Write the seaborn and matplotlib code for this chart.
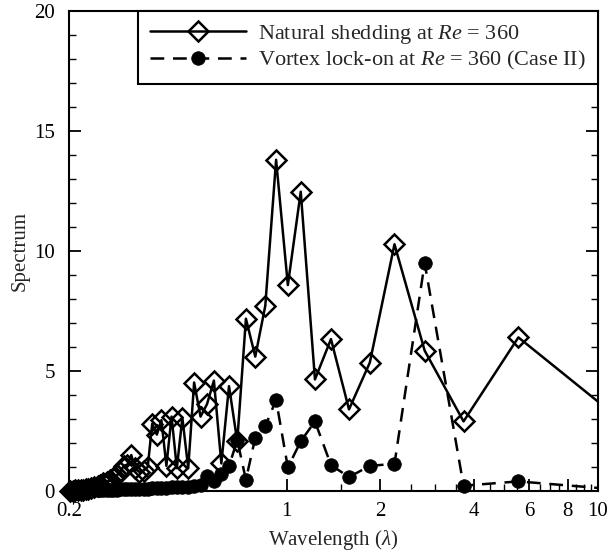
import numpy as np
import pandas as pd
import matplotlib
matplotlib.use("Agg")
import matplotlib.pyplot as plt
from matplotlib.ticker import FixedLocator, NullFormatter, FixedFormatter
from matplotlib.lines import Line2D
import seaborn as sns

# Wavelengths of the spectral components (largest first)
wavelength = [11.1, 5.55, 3.70, 2.775, 2.22, 1.85, 1.586, 1.388, 1.233, 1.11,
              1.009, 0.925, 0.854, 0.793, 0.740, 0.694, 0.653, 0.617, 0.584, 0.555,
              0.529, 0.5045, 0.483, 0.4625, 0.444, 0.427, 0.411, 0.396, 0.383, 0.370,
              0.358, 0.347, 0.336, 0.326, 0.317, 0.308, 0.300, 0.292, 0.285, 0.2775,
              0.271, 0.264, 0.258, 0.252, 0.247, 0.241, 0.236, 0.231, 0.227, 0.222,
              0.218, 0.213, 0.209, 0.206, 0.202]

# Spectrum, natural shedding at Re = 360
natural = [3.25, 6.40, 2.90, 5.85, 10.28, 5.35, 3.40, 6.33, 4.65, 12.47,
           8.58, 13.80, 7.72, 5.60, 7.18, 2.07, 4.37, 1.15, 4.60, 3.62,
           3.10, 4.52, 0.95, 3.05, 0.95, 3.10, 1.05, 2.95, 2.35, 2.80,
           1.00, 0.85, 0.80, 0.95, 1.50, 1.10, 1.05, 0.80, 0.65, 0.55,
           0.45, 0.38, 0.32, 0.27, 0.22, 0.17, 0.13, 0.10, 0.08, 0.06,
           0.05, 0.04, 0.03, 0.02, 0.01]

# Spectrum, vortex lock-on at Re = 360 (Case II)
lockon = [0.08, 0.40, 0.22, 9.50, 1.13, 1.05, 0.58, 1.08, 2.90, 2.07,
          0.98, 3.80, 2.70, 2.22, 0.47, 2.12, 1.03, 0.72, 0.42, 0.62,
          0.24, 0.20, 0.18, 0.17, 0.16, 0.15, 0.14, 0.13, 0.12, 0.11,
          0.10, 0.10, 0.09, 0.09, 0.08, 0.08, 0.07, 0.07, 0.06, 0.06,
          0.05, 0.05, 0.05, 0.04, 0.04, 0.04, 0.03, 0.03, 0.03, 0.02,
          0.02, 0.02, 0.02, 0.01, 0.01]

series_labels = [r"Natural shedding at $\mathit{Re}$ = 360",
                 r"Vortex lock-on at $\mathit{Re}$ = 360 (Case II)"]

x_major = [0.2, 1, 2, 4, 6, 8, 10]
x_major_labels = ["0.2", "1", "2", "4", "6", "8", "10"]
x_minor = [1.5, 2.5, 3, 3.5, 4.5, 5, 5.5, 6.5, 7, 7.5, 8.5, 9, 9.5]
y_major = [0, 5, 10, 15, 20]
x_range = (0.2, 10)

FS = 15
LEG_FS = 16
LW = 1.8
nat_style = dict(marker="D", ms=10, mfc="none", mec="black", mew=1.8)
lock_style = dict(marker="o", ms=9.8, mfc="black", mec="black", mew=0.5)
dash = (0, (5.5, 3.5))

sns.set_style("white")
plt.rcParams["font.family"] = ["Liberation Serif", "DejaVu Serif"]
plt.rcParams["mathtext.fontset"] = "custom"
plt.rcParams["mathtext.rm"] = "Liberation Serif"
plt.rcParams["mathtext.it"] = "Liberation Serif:italic"
plt.rcParams["font.size"] = FS

df = pd.DataFrame({"wavelength": wavelength, "natural": natural, "lockon": lockon})
# markers are drawn only for components inside the plotted wavelength range
in_range = df[(df["wavelength"] >= x_range[0]) & (df["wavelength"] <= x_range[1])]

fig = plt.figure(figsize=(6.14, 5.55), dpi=100)
ax = fig.add_axes([69 / 614, 1 - 491 / 555, (598 - 69) / 614, (491 - 11) / 555])

# connecting lines (clipped at the axes frame)
sns.lineplot(data=df, x="wavelength", y="natural", ax=ax, estimator=None,
             color="black", lw=LW)
sns.lineplot(data=df, x="wavelength", y="lockon", ax=ax, estimator=None,
             color="black", lw=LW, linestyle=dash)
# symbols (not clipped, so the ones lying on the axis show whole)
sns.lineplot(data=in_range, x="wavelength", y="natural", ax=ax, estimator=None,
             linestyle="none", clip_on=False, zorder=3, **nat_style)
sns.lineplot(data=in_range, x="wavelength", y="lockon", ax=ax, estimator=None,
             linestyle="none", clip_on=False, zorder=4, **lock_style)

ax.set_xscale("log")
ax.set_xlim(*x_range)
ax.set_ylim(0, 20)
ax.xaxis.set_major_locator(FixedLocator(x_major))
ax.xaxis.set_major_formatter(FixedFormatter(x_major_labels))
ax.xaxis.set_minor_locator(FixedLocator(x_minor))
ax.xaxis.set_minor_formatter(NullFormatter())
ax.yaxis.set_major_locator(FixedLocator(y_major))
ax.yaxis.set_minor_locator(FixedLocator(np.arange(0, 21, 1)))

ax.tick_params(axis="both", which="both", direction="in", colors="black", labelsize=FS)
ax.tick_params(axis="both", which="major", length=8.5, width=1.3)
ax.tick_params(axis="both", which="minor", length=5, width=1.0)
ax.tick_params(axis="y", which="both", left=True, right=True, pad=10)
ax.tick_params(axis="x", which="both", bottom=True, top=False, pad=8)

for sp in ax.spines.values():
    sp.set_visible(True)
    sp.set_color("black")
    sp.set_linewidth(1.5)
    sp.set_zorder(2.5)

ax.set_xlabel(r"Wavelength ($\mathit{\lambda}$)", fontsize=FS, labelpad=5)
ax.set_ylabel("Spectrum", fontsize=FS, labelpad=3)

handles = [
    Line2D([], [], color="black", lw=LW, **nat_style),
    Line2D([], [], color="black", lw=LW, linestyle=dash, **lock_style),
]
leg = ax.legend(handles, series_labels, loc="upper right", bbox_to_anchor=(1, 1),
                borderaxespad=0, frameon=True, fancybox=False, edgecolor="black",
                fontsize=LEG_FS, handlelength=4.3, handletextpad=0.55, numpoints=1,
                borderpad=0.55, labelspacing=0.12)
leg.get_frame().set_linewidth(1.5)
leg.get_frame().set_alpha(1)
leg.set_zorder(5)

fig.savefig("out.png", dpi=100)
